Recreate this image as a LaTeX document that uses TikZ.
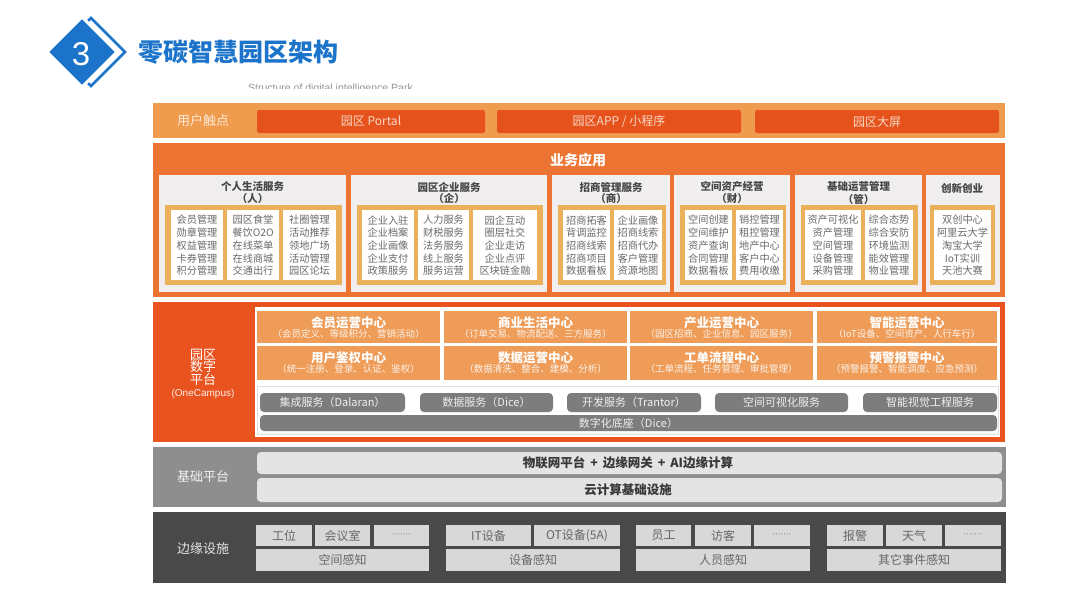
\documentclass[tikz,border=0pt]{standalone}
\usepackage{fontspec}
\setmainfont{Noto Sans CJK SC}
\newfontfamily\latinsans{Liberation Sans}
\definecolor{hdblue}{HTML}{1B74C9}
\definecolor{touchbg}{HTML}{EF9C4F}
\definecolor{touchtext}{HTML}{FBE9D6}
\definecolor{btnred}{HTML}{E6521B}
\definecolor{btntext}{HTML}{F8D9C8}
\definecolor{appbg}{HTML}{EC7432}
\definecolor{panelbg}{HTML}{F0EEEE}
\definecolor{framegold}{HTML}{EAB05A}
\definecolor{itemgray}{HTML}{6A6A6A}
\definecolor{platred}{HTML}{E85320}
\definecolor{centerorg}{HTML}{EE9C58}
\definecolor{pillgray}{HTML}{7D7D7D}
\definecolor{basegray}{HTML}{8E8E8E}
\definecolor{barlight}{HTML}{E4E4E4}
\definecolor{edgedark}{HTML}{494949}
\definecolor{edgebox}{HTML}{D8D8D8}
\newcommand{\fsz}[1]{\fontsize{#1}{#1}\selectfont}
\newcommand{\moredots}{{\latinsans\fsz{8}·······}}
\tikzset{
  btn/.style={text=btntext, font=\fsz{12}, inner sep=0pt},
  ptitle/.style={text=black!72, font=\fsz{10.5}\bfseries, inner sep=0pt},
  item/.style={text=itemgray, font=\fontsize{10.2}{12.7}\selectfont, align=center, inner sep=0pt},
  sidelabel/.style={text=touchtext, font=\fsz{13}, align=center, inner sep=0pt},
  ctrtitle/.style={text=white, font=\fsz{12.5}\bfseries, inner sep=0pt},
  ctrsub/.style={text=white!88!centerorg, font=\fsz{9.5}, inner sep=0pt},
  pill/.style={text=white!88!pillgray, font=\fsz{11}, inner sep=0pt},
  bartext/.style={text=black!78, font=\fsz{12.5}\bfseries, inner sep=0pt},
  edgetext/.style={text=black!60, font=\fsz{12}, inner sep=0pt}
}
\begin{document}
\begin{tikzpicture}[x=1pt, y=-1pt]
    \useasboundingbox (0,0) rectangle (1080,613);
    \fill[white] (0,0) rectangle (1080,613);

    % Header
    \draw[hdblue, line width=2.5pt] (91,18) -- (125,52) -- (91,86) -- (57,52) -- cycle;
    \filldraw[fill=hdblue, draw=white, line width=3pt] (82,17) -- (117,52) -- (82,87) -- (47,52) -- cycle;
    \node[text=white, font=\latinsans\fsz{33}] (num) at (81,54) {3};
    \node[anchor=west, text=hdblue, font=\fsz{25}\bfseries, inner sep=0pt] (title) at (138,52) {零碳智慧园区架构};
    \begin{scope}
        \clip (240,76) rectangle (480,88);
        \node[anchor=base west, text=black!42, font=\latinsans\fsz{10.5}, inner sep=0pt] (subtitle) at (248,91) {Structure of digital intelligence Park};
    \end{scope}

    % User touch points
    \fill[touchbg] (153,103) rectangle (1005,138);
    \node[sidelabel] (touch) at (203,121) {用户触点};
    \fill[btnred, rounded corners=2pt] (257,110) rectangle (485,133);
    \fill[btnred, rounded corners=2pt] (497,110) rectangle (741,133);
    \fill[btnred, rounded corners=2pt] (755,110) rectangle (999,133);
    \node[btn] (portal) at (371,121.5) {园区 Portal};
    \node[btn] (app) at (619,121.5) {园区APP / 小程序};
    \node[btn] (screen) at (877,121.5) {园区大屏};

    % Business applications
    \fill[appbg] (153,143) rectangle (1005,297);
    \node[text=white, font=\fsz{14}\bfseries, inner sep=0pt] (apps) at (578,160) {业务应用};
    \foreach \xa/\xb/\ttl/\sub [count=\i] in {159/346/个人生活服务/（人）, 351/547/园区企业服务/（企）, 552/670/招商管理服务/（商）, 674/790/空间资产经营/（财）, 795/922/基础运营管理/（管）} {
        \fill[panelbg] (\xa,175) rectangle (\xb,292);
        \node[ptitle] (ptitle-\i) at ({(\xa+\xb)/2},187) {\ttl};
        \node[ptitle] (psub-\i) at ({(\xa+\xb)/2},199) {\sub};
        \fill[framegold] (\xa+6,205) rectangle (\xb-4,285);
    }
    \fill[panelbg] (926,175) rectangle (1000,292);
    \node[ptitle] (ptitle-6) at (962,188) {创新创业};
    \fill[framegold] (930,205) rectangle (995,285);
    % Item columns
    \foreach \xa/\xb/\items [count=\i] in {
        171/223/{会员管理\\勋章管理\\权益管理\\卡券管理\\积分管理},
        227/279/{园区食堂\\餐饮O2O\\在线菜单\\在线商城\\交通出行},
        283/336/{社圈管理\\活动推荐\\领地广场\\活动管理\\园区论坛},
        362/414/{企业入驻\\企业档案\\企业画像\\企业支付\\政策服务},
        418/469/{人力服务\\财税服务\\法务服务\\线上服务\\服务运营},
        473/537/{园企互动\\圈层社交\\企业走访\\企业点评\\区块链金融},
        563/610/{招商拓客\\背调监控\\招商线索\\招商项目\\数据看板},
        614/662/{企业画像\\招商线索\\招商代办\\客户管理\\资源地图},
        685/732/{空间创建\\空间维护\\资产查询\\合同管理\\数据看板},
        736/783/{销控管理\\租控管理\\地产中心\\客户中心\\费用收缴},
        805/861/{资产可视化\\资产管理\\空间管理\\设备管理\\采购管理},
        865/913/{综合态势\\综合安防\\环境监测\\能效管理\\物业管理},
        934/991/{双创中心\\阿里云大学\\淘宝大学\\IoT实训\\天池大赛}} {
        \fill[white] (\xa,210) rectangle (\xb,280);
        \node[item] (col-\i) at ({(\xa+\xb)/2},245.5) {\items};
    }

    % Digital platform
    \fill[platred] (153,302) rectangle (1005,442);
    \fill[white] (255,307) rectangle (1000,437);
    \node[sidelabel, text=white, font=\fontsize{13}{12.5}\selectfont] (plat) at (203,367) {园区\\数字\\平台};
    \node[text=white!90!platred, font=\latinsans\fsz{10}, inner sep=0pt] (onecampus) at (203,394) {(OneCampus)};
    \foreach \xa/\xb/\ttl/\sub [count=\i] in {
        257/440/会员运营中心/（会员定义、等级积分、营销活动）,
        444/627/商业生活中心/（订单交易、物流配送、三方服务）,
        630/813/产业运营中心/（园区招商、企业信息、园区服务）,
        817/997/智能运营中心/（IoT设备、空间资产、人行车行）} {
        \fill[centerorg] (\xa,311) rectangle (\xb,343);
        \node[ctrtitle] (ctr-a\i) at ({(\xa+\xb)/2},323) {\ttl};
        \node[ctrsub] (ctrsub-a\i) at ({(\xa+\xb)/2},334) {\sub};
    }
    \foreach \xa/\xb/\ttl/\sub [count=\i] in {
        257/440/用户鉴权中心/（统一注册、登录、认证、鉴权）,
        444/627/数据运营中心/（数据清洗、整合、建模、分析）,
        630/813/工单流程中心/（工单流程、任务管理、审批管理）,
        817/997/预警报警中心/（预警报警、智能调度、应急预测）} {
        \fill[centerorg] (\xa,346) rectangle (\xb,380);
        \node[ctrtitle] (ctr-b\i) at ({(\xa+\xb)/2},358) {\ttl};
        \node[ctrsub] (ctrsub-b\i) at ({(\xa+\xb)/2},369) {\sub};
    }
    \draw[black!12] (257,386) rectangle (998,434);
    \foreach \xa/\xb/\ttl [count=\i] in {260/405/集成服务（Dalaran）, 420/553/数据服务（Dice）, 567/701/开发服务（Trantor）, 715/848/空间可视化服务, 863/997/智能视觉工程服务} {
        \fill[pillgray, rounded corners=4pt] (\xa,393) rectangle (\xb,412);
        \node[pill] (pill-\i) at ({(\xa+\xb)/2},402.5) {\ttl};
    }
    \fill[pillgray, rounded corners=4pt] (260,415) rectangle (997,431);
    \node[pill] (dice) at (628.5,423) {数字化底座（Dice）};

    % Base platform
    \fill[basegray] (153,447) rectangle (1006,507);
    \node[sidelabel, text=white!88!basegray] (base) at (203,477) {基础平台};
    \fill[barlight, rounded corners=4pt] (257,452) rectangle (1002,474);
    \fill[barlight, rounded corners=4pt] (257,478) rectangle (1002,502);
    \node[bartext] (iot) at (628,463) {物联网平台\ \,+\ \,边缘网关\ \,+\ \,AI边缘计算};
    \node[bartext] (cloud) at (628,490) {云计算基础设施};

    % Edge facilities
    \fill[edgedark] (153,512) rectangle (1006,583);
    \node[sidelabel, text=white!85!edgedark] (edge) at (203,549) {边缘设施};
    \foreach \xa/\xb/\ttl [count=\i] in {256/312/工位, 315/370/会议室, 374/429/\moredots, 446/531/IT设备, 534/620/{OT设备(5A)}, 636/691/员工, 695/751/访客, 754/810/\moredots, 827/883/报警, 886/942/天气, 945/1001/\moredots} {
        \fill[edgebox] (\xa,525) rectangle (\xb,546);
        \node[edgetext] (sense-\i) at ({(\xa+\xb)/2},535.5) {\ttl};
    }
    \foreach \xa/\xb/\ttl [count=\i] in {256/429/空间感知, 446/620/设备感知, 636/810/人员感知, 827/1001/其它事件感知} {
        \fill[edgebox] (\xa,549) rectangle (\xb,571);
        \node[edgetext] (group-\i) at ({(\xa+\xb)/2},560) {\ttl};
    }
\end{tikzpicture}
\end{document}
